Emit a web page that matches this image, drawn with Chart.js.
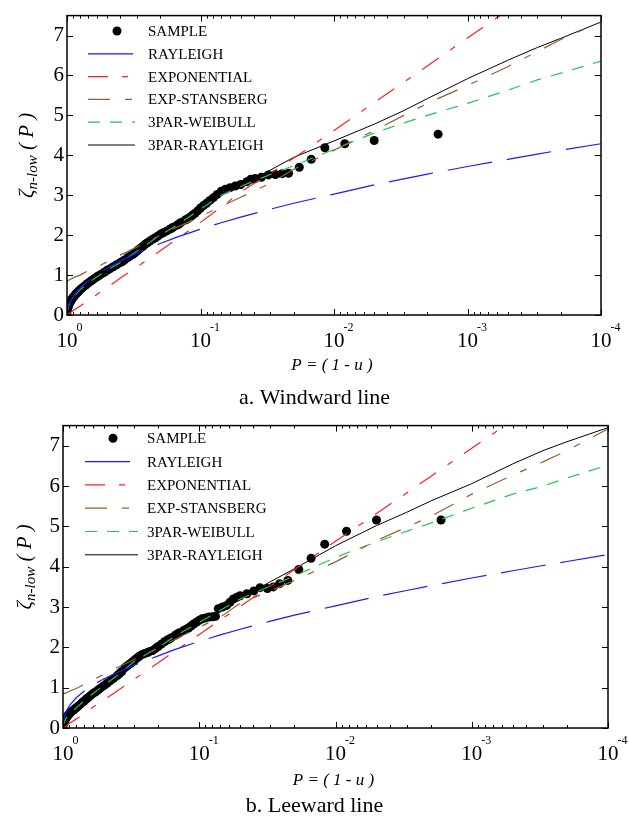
<!DOCTYPE html>
<html>
<head>
<meta charset="utf-8">
<script src="https://cdn.jsdelivr.net/npm/chart.js@4.4.1/dist/chart.umd.min.js"></script>
<style>
  html, body { margin: 0; padding: 0; background: #fff; }
  canvas { display: block; }
</style>
</head>
<body>
<canvas id="chartA" width="629" height="410"></canvas>
<canvas id="chartB" width="629" height="411"></canvas>
<script>
// probability grid P = 1 - u used for the fitted curves (both panels)
const pFit = [1, 0.99, 0.97, 0.95, 0.9, 0.8, 0.7, 0.6, 0.5, 0.4, 0.3, 0.2, 0.15, 0.1, 0.07, 0.05,
  0.03, 0.02, 0.01, 0.005, 0.003, 0.002, 0.001, 5e-4, 3e-4, 2e-4, 1e-4];

// a. Windward line
const rayleighA = [0, 0.14, 0.25, 0.32, 0.46, 0.67, 0.84, 1.01, 1.18, 1.35, 1.55, 1.79, 1.95, 2.15, 2.31, 2.45,
  2.65, 2.80, 3.03, 3.26, 3.41, 3.53, 3.72, 3.90, 4.03, 4.13, 4.29];
const expA = [0, 0.01, 0.03, 0.05, 0.11, 0.22, 0.36, 0.51, 0.69, 0.92, 1.2, 1.61, 1.9, 2.32, 2.7, 3.08,
  3.55, 3.93, 4.62, 5.32, 5.83, 6.24, 6.94, 7.63, 8.15, 8.55, 9.25];
const stansA = [0.85, 0.86, 0.87, 0.89, 0.93, 1.0, 1.1, 1.2, 1.33, 1.5, 1.7, 2.0, 2.2, 2.47, 2.72, 2.95,
  3.3, 3.65, 4.13, 4.62, 5.0, 5.3, 5.75, 6.22, 6.6, 6.9, 7.34];
const weibullA = [0, 0.12, 0.22, 0.3, 0.44, 0.63, 0.79, 0.95, 1.12, 1.31, 1.6, 2.0, 2.25, 2.65, 3.0, 3.22,
  3.52, 3.74, 4.15, 4.56, 4.81, 5.0, 5.3, 5.63, 5.89, 6.06, 6.36];
const rayl3A = [0, 0.13, 0.23, 0.3, 0.44, 0.63, 0.79, 0.95, 1.12, 1.31, 1.6, 2.0, 2.25, 2.65, 3.0, 3.25,
  3.63, 3.95, 4.36, 4.78, 5.12, 5.42, 5.92, 6.38, 6.7, 6.93, 7.34];
const sampleP_A = [1, 0.99, 0.98, 0.97, 0.96, 0.95, 0.935, 0.92, 0.91, 0.9,
  0.885, 0.87, 0.85, 0.83, 0.815, 0.8, 0.775, 0.75, 0.725, 0.7,
  0.675, 0.65, 0.625, 0.6, 0.575, 0.55, 0.525, 0.5, 0.475, 0.45,
  0.425, 0.4, 0.385, 0.37, 0.35, 0.335, 0.32, 0.31, 0.3, 0.29,
  0.28, 0.27, 0.26, 0.25, 0.24, 0.23, 0.22, 0.21, 0.2, 0.19,
  0.18, 0.17, 0.165, 0.16, 0.15, 0.145, 0.14, 0.13, 0.125, 0.12,
  0.115, 0.11, 0.105, 0.1, 0.095, 0.09, 0.085, 0.08, 0.075, 0.07,
  0.065, 0.06, 0.055, 0.05, 0.045, 0.042, 0.039, 0.035, 0.031, 0.0275,
  0.0245, 0.0219, 0.0182, 0.0148, 0.0117, 0.0083, 0.005, 0.00166];
const sampleA = [0, 0.13, 0.19, 0.24, 0.28, 0.31, 0.35, 0.39, 0.42, 0.44,
  0.47, 0.5, 0.54, 0.57, 0.6, 0.63, 0.67, 0.71, 0.75, 0.79,
  0.83, 0.87, 0.91, 0.95, 0.99, 1.03, 1.07, 1.12, 1.16, 1.21,
  1.26, 1.31, 1.34, 1.38, 1.44, 1.48, 1.52, 1.56, 1.6, 1.64,
  1.68, 1.72, 1.77, 1.81, 1.85, 1.89, 1.93, 1.97, 2.02, 2.06,
  2.1, 2.15, 2.17, 2.2, 2.25, 2.28, 2.32, 2.38, 2.41, 2.45,
  2.5, 2.55, 2.61, 2.68, 2.74, 2.8, 2.87, 2.94, 3.02, 3.1,
  3.15, 3.19, 3.23, 3.27, 3.34, 3.4, 3.42, 3.45, 3.51, 3.52,
  3.54, 3.55, 3.70, 3.90, 4.19, 4.29, 4.37, 4.53];

// b. Leeward line
const rayleighB = [0, 0.2, 0.33, 0.4, 0.55, 0.75, 0.91, 1.07, 1.22, 1.37, 1.56, 1.79, 1.95, 2.15, 2.31, 2.45,
  2.65, 2.8, 3.03, 3.26, 3.41, 3.53, 3.72, 3.9, 4.03, 4.13, 4.3];
const expB = [0, 0.01, 0.03, 0.05, 0.11, 0.22, 0.36, 0.52, 0.7, 0.92, 1.21, 1.62, 1.91, 2.32, 2.68, 3.02,
  3.52, 3.93, 4.63, 5.32, 5.83, 6.24, 6.94, 7.63, 8.15, 8.55, 9.25];
const stansB = [0.84, 0.85, 0.86, 0.87, 0.91, 0.98, 1.08, 1.2, 1.33, 1.5, 1.7, 1.98, 2.2, 2.5, 2.75, 3.1,
  3.4, 3.66, 4.12, 4.65, 4.98, 5.25, 5.8, 6.27, 6.6, 6.88, 7.42];
const weibullB = [0, 0.1, 0.18, 0.24, 0.35, 0.5, 0.67, 0.86, 1.06, 1.3, 1.65, 2.0, 2.28, 2.62, 2.92, 3.2,
  3.52, 3.77, 4.23, 4.62, 4.88, 5.08, 5.45, 5.8, 6.0, 6.2, 6.52];
const rayl3B = [0, 0.1, 0.18, 0.24, 0.35, 0.5, 0.67, 0.86, 1.06, 1.3, 1.65, 2.0, 2.28, 2.62, 2.95, 3.22,
  3.63, 3.95, 4.52, 5.02, 5.35, 5.63, 6.06, 6.55, 6.88, 7.1, 7.45];
const sampleP_B = [1, 0.99, 0.98, 0.97, 0.96, 0.95, 0.935, 0.92, 0.91, 0.9,
  0.885, 0.87, 0.85, 0.83, 0.815, 0.8, 0.775, 0.75, 0.725, 0.7,
  0.675, 0.65, 0.625, 0.6, 0.575, 0.55, 0.525, 0.5, 0.475, 0.45,
  0.425, 0.4, 0.385, 0.37, 0.35, 0.335, 0.32, 0.31, 0.3, 0.29,
  0.28, 0.27, 0.26, 0.25, 0.24, 0.23, 0.22, 0.21, 0.2, 0.19,
  0.18, 0.17, 0.165, 0.16, 0.15, 0.145, 0.14, 0.13, 0.125, 0.12,
  0.115, 0.11, 0.105, 0.1, 0.095, 0.09, 0.085, 0.08, 0.076, 0.0725,
  0.0676, 0.063, 0.0595, 0.0562, 0.053, 0.0501, 0.0447, 0.0398, 0.0358, 0.0316,
  0.0286, 0.0257, 0.0224, 0.0186, 0.0151, 0.012, 0.0083, 0.005, 0.00168];
const sampleB = [0, 0.1, 0.14, 0.18, 0.21, 0.24, 0.28, 0.31, 0.33, 0.35,
  0.38, 0.4, 0.43, 0.45, 0.48, 0.5, 0.54, 0.58, 0.63, 0.67,
  0.72, 0.76, 0.81, 0.86, 0.9, 0.95, 1.0, 1.05, 1.11, 1.17,
  1.23, 1.3, 1.35, 1.4, 1.5, 1.55, 1.6, 1.64, 1.68, 1.72,
  1.76, 1.8, 1.83, 1.85, 1.87, 1.9, 1.92, 1.97, 2.02, 2.08,
  2.14, 2.19, 2.21, 2.24, 2.3, 2.33, 2.36, 2.42, 2.45, 2.48,
  2.53, 2.58, 2.62, 2.67, 2.71, 2.73, 2.75, 2.76, 2.77, 2.96,
  3.0, 3.04, 3.12, 3.2, 3.24, 3.28, 3.33, 3.4, 3.48, 3.46,
  3.5, 3.58, 3.66, 3.93, 4.21, 4.56, 4.88, 5.16, 5.16];

const labels = ['SAMPLE', 'RAYLEIGH', 'EXPONENTIAL', 'EXP-STANSBERG', '3PAR-WEIBULL', '3PAR-RAYLEIGH'];
const yTicks = [0, 1, 2, 3, 4, 5, 6, 7];
const decades = [0, -1, -2, -3, -4];

const FONT = '"Liberation Serif", "Times New Roman", serif';

function pairs(ps, zs) {
  return ps.map((p, i) => ({ x: p, y: zs[i] }));
}

function lineSet(label, zs, color, dash, width) {
  return {
    label: label, data: pairs(pFit, zs), showLine: true, pointRadius: 0,
    borderColor: color, borderWidth: width, borderDash: dash, order: 0,
  };
}

function buildDatasets(sp, s, ray, ex, st, wb, r3) {
  return [
    { label: labels[0], data: pairs(sp, s), showLine: false, pointRadius: 4.5,
      pointBackgroundColor: '#000', pointBorderWidth: 0, order: 1 },
    lineSet(labels[1], ray, '#1a1aff', [45, 15], 1.2),
    lineSet(labels[2], ex, '#ff2020', [20, 14, 6, 14], 1.2),
    lineSet(labels[3], st, '#93602f', [22, 15, 7, 15], 1.2),
    lineSet(labels[4], wb, '#22c455', [12, 10], 1.2),
    lineSet(labels[5], r3, '#000', [], 1),
  ];
}

// frame, inward ticks, power-of-ten labels, axis titles, legend and caption
const panelDecor = {
  id: 'panelDecor',
  afterDraw(chart, args, o) {
    const ctx = chart.ctx, a = chart.chartArea, sx = chart.scales.x, sy = chart.scales.y;
    ctx.save();
    ctx.strokeStyle = '#000';
    ctx.lineWidth = 1.5;
    ctx.strokeRect(a.left, a.top, a.right - a.left, a.bottom - a.top);

    ctx.lineWidth = 1;
    ctx.beginPath();
    const xTick = (v, len) => {
      const px = Math.round(sx.getPixelForValue(v)) + 0.5;
      ctx.moveTo(px, a.bottom); ctx.lineTo(px, a.bottom - len);
      ctx.moveTo(px, a.top); ctx.lineTo(px, a.top + len);
    };
    decades.forEach(e => {
      xTick(Math.pow(10, e), 6);
      if (e < 0) for (let m = 2; m <= 9; m++) xTick(m * Math.pow(10, e), 3);
    });
    yTicks.forEach(v => {
      const py = Math.round(sy.getPixelForValue(v)) + 0.5;
      ctx.moveTo(a.left, py); ctx.lineTo(a.left + 6, py);
      ctx.moveTo(a.right, py); ctx.lineTo(a.right - 6, py);
    });
    ctx.stroke();

    // x tick labels 10^e
    ctx.fillStyle = '#000';
    decades.forEach(e => {
      const px = sx.getPixelForValue(Math.pow(10, e));
      ctx.font = `21px ${FONT}`;
      ctx.textAlign = 'center';
      ctx.textBaseline = 'alphabetic';
      const w = ctx.measureText('10').width;
      ctx.fillText('10', px, a.bottom + 32);
      ctx.font = `12px ${FONT}`;
      ctx.textAlign = 'left';
      ctx.fillText(String(e), px + w / 2 - 1, a.bottom + 16);
    });

    // x title
    ctx.font = `italic 17px ${FONT}`;
    ctx.textAlign = 'center';
    ctx.fillText('P = ( 1 - u )', (a.left + a.right) / 2 - 2, o.xTitleY);

    // caption
    ctx.font = `22px ${FONT}`;
    ctx.fillText(o.caption, chart.width / 2, o.captionY);

    // y title: zeta with subscript n-low
    ctx.save();
    ctx.translate(o.yTitleX, (a.top + a.bottom) / 2 - 10);
    ctx.rotate(-Math.PI / 2);
    ctx.textAlign = 'left';
    ctx.font = `italic 21px ${FONT}`;
    const w1 = ctx.measureText('ζ').width;
    const w3 = ctx.measureText(' ( P )').width;
    ctx.font = `italic 15px ${FONT}`;
    const w2 = ctx.measureText('n-low').width;
    const x0 = -(w1 + w2 + w3) / 2;
    ctx.font = `italic 21px ${FONT}`;
    ctx.fillText('ζ', x0, 0);
    ctx.fillText(' ( P )', x0 + w1 + w2, 0);
    ctx.font = `italic 15px ${FONT}`;
    ctx.fillText('n-low', x0 + w1, 4);
    ctx.restore();

    // legend inside the plot
    const L = o.legend;
    chart.data.datasets.forEach((ds, i) => {
      const y = L.y0 + i * L.step;
      if (ds.showLine === false) {
        ctx.fillStyle = ds.pointBackgroundColor;
        ctx.beginPath();
        ctx.arc(L.dotX, y, ds.pointRadius, 0, Math.PI * 2);
        ctx.fill();
      } else {
        ctx.strokeStyle = ds.borderColor;
        ctx.lineWidth = ds.borderWidth;
        ctx.setLineDash(ds.borderDash);
        ctx.beginPath();
        ctx.moveTo(L.x0, y); ctx.lineTo(L.x1, y);
        ctx.stroke();
        ctx.setLineDash([]);
      }
      ctx.fillStyle = '#000';
      ctx.font = `15px ${FONT}`;
      ctx.textAlign = 'left';
      ctx.fillText(ds.label, L.tx, y + 5);
    });
    ctx.restore();
  }
};

function makeChart(id, datasets, opt) {
  return new Chart(document.getElementById(id), {
    type: 'scatter',
    data: { datasets: datasets },
    options: {
      responsive: false,
      animation: false,
      events: [],
      layout: { padding: opt.padding },
      plugins: {
        legend: { display: false },
        tooltip: { enabled: false },
        panelDecor: opt.decor,
      },
      scales: {
        x: {
          type: 'logarithmic', min: 1e-4, max: 1, reverse: true,
          grid: { display: false, drawTicks: false }, border: { display: false },
          ticks: { display: false },
          afterFit: s => { s.height = opt.xh; },
        },
        y: {
          min: 0, max: 7.5,
          grid: { display: false, drawTicks: false }, border: { display: false },
          ticks: { stepSize: 1, includeBounds: false, padding: 3, color: '#000',
                   font: { family: FONT, size: 21 } },
          afterFit: s => { s.width = opt.yw; },
        },
      },
    },
    plugins: [panelDecor],
  });
}

makeChart('chartA', buildDatasets(sampleP_A, sampleA, rayleighA, expA, stansA, weibullA, rayl3A), {
  padding: { top: 7, right: 28, left: 0, bottom: 0 }, xh: 95, yw: 67,
  decor: { caption: 'a. Windward line', captionY: 404, xTitleY: 370, yTitleX: 33,
           legend: { y0: 31, step: 22.8, x0: 88, x1: 135, dotX: 117, tx: 148 } },
});

makeChart('chartB', buildDatasets(sampleP_B, sampleB, rayleighB, expB, stansB, weibullB, rayl3B), {
  padding: { top: 3, right: 21, left: 0, bottom: 0 }, xh: 93, yw: 63,
  decor: { caption: 'b. Leeward line', captionY: 402, xTitleY: 375, yTitleX: 31,
           legend: { y0: 28.3, step: 23.3, x0: 85, x1: 138, dotX: 113, tx: 147 } },
});
</script>
</body>
</html>
